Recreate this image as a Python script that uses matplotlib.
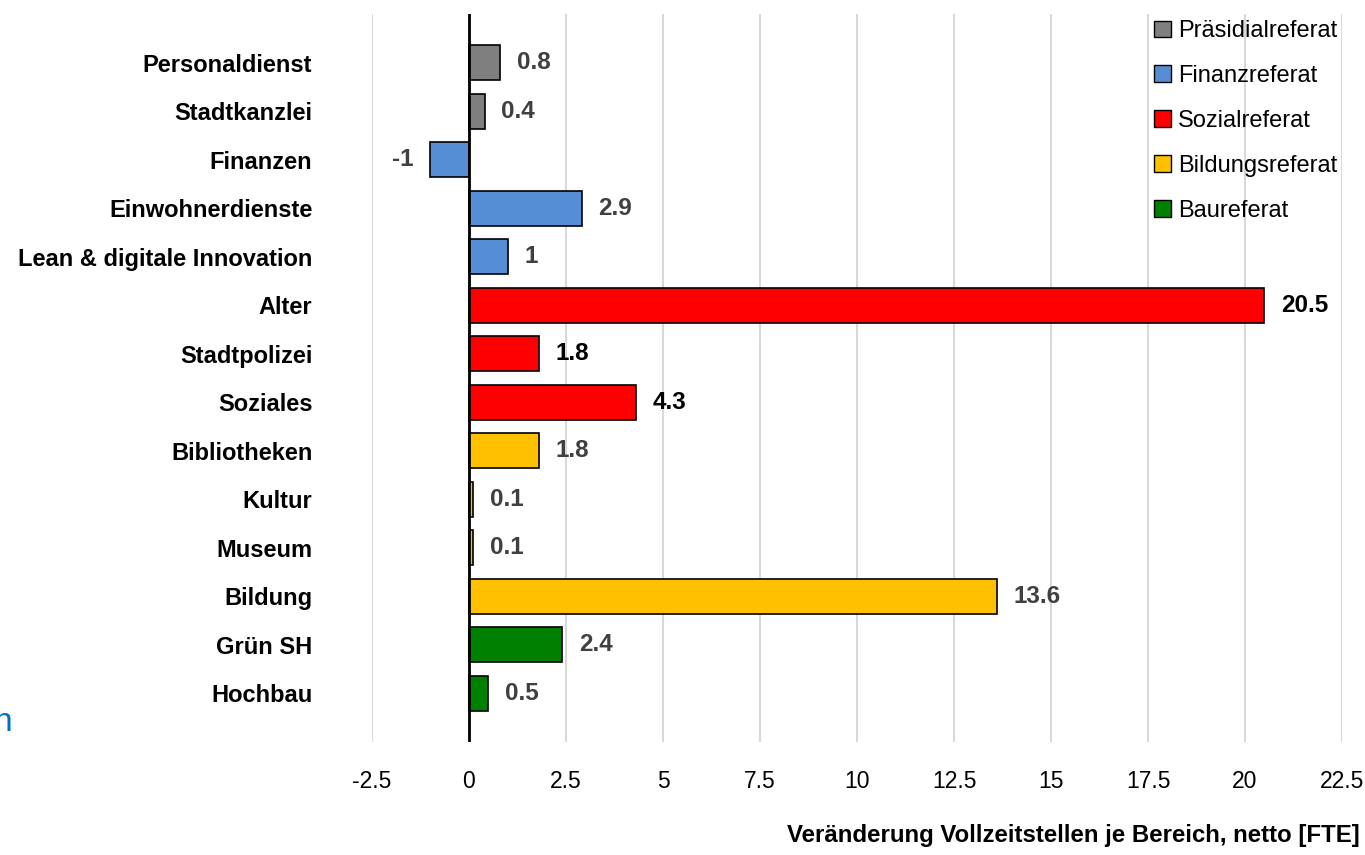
import matplotlib
matplotlib.use("Agg")
import matplotlib.pyplot as plt
from matplotlib.patches import Patch

plt.rcParams['font.family'] = ['Liberation Sans', 'DejaVu Sans']

categories = ["Personaldienst", "Stadtkanzlei", "Finanzen", "Einwohnerdienste",
              "Lean & digitale Innovation", "Alter", "Stadtpolizei", "Soziales",
              "Bibliotheken", "Kultur", "Museum", "Bildung", "Grün SH", "Hochbau"]
values = [0.8, 0.4, -1, 2.9, 1, 20.5, 1.8, 4.3, 1.8, 0.1, 0.1, 13.6, 2.4, 0.5]
groups = ["Präsidialreferat", "Präsidialreferat", "Finanzreferat", "Finanzreferat",
          "Finanzreferat", "Sozialreferat", "Sozialreferat", "Sozialreferat",
          "Bildungsreferat", "Bildungsreferat", "Bildungsreferat", "Bildungsreferat",
          "Baureferat", "Baureferat"]
group_names = ["Präsidialreferat", "Finanzreferat", "Sozialreferat", "Bildungsreferat", "Baureferat"]
group_colors = {"Präsidialreferat": "#7F7F7F", "Finanzreferat": "#558ED5",
                "Sozialreferat": "#FF0000", "Bildungsreferat": "#FFC000",
                "Baureferat": "#008000"}
label_colors = {"Sozialreferat": "#000000"}
xticks = [-2.5, 0, 2.5, 5, 7.5, 10, 12.5, 15, 17.5, 20, 22.5]
xtick_labels = ["-2.5", "0", "2.5", "5", "7.5", "10", "12.5", "15", "17.5", "20", "22.5"]

fig = plt.figure(figsize=(13.65, 8.55), dpi=100)
ax = fig.add_axes([372/1365, 1 - 742/855, (1342-372)/1365, (742-14)/855])

ypos = list(range(len(categories)))
ax.barh(ypos, values, height=0.72,
        color=[group_colors[g] for g in groups],
        edgecolor="black", linewidth=1.2, zorder=3)

for y, v, g in zip(ypos, values, groups):
    c = label_colors.get(g, "#404040")
    if v >= 0:
        ax.annotate(f"{v:g}", (v, y), xytext=(12, 0), textcoords="offset points",
                    ha="left", va="center", fontsize=17.5, fontweight="bold", color=c)
    else:
        ax.annotate(f"{v:g}", (v, y), xytext=(-12, 0), textcoords="offset points",
                    ha="right", va="center", fontsize=17.5, fontweight="bold", color=c)

ax.set_xlim(-2.5, 22.5)
ax.set_ylim(len(categories), -1)
ax.set_xticks(xticks)
ax.set_xticklabels(xtick_labels, fontsize=16.5)
ax.set_yticks(ypos)
ax.set_yticklabels(categories, fontsize=17, fontweight="bold")
ax.tick_params(axis="both", length=0)
ax.tick_params(axis="x", pad=20)
ax.tick_params(axis="y", pad=43)
for s in ax.spines.values():
    s.set_visible(False)
ax.grid(axis="x", color="#D9D9D9", linewidth=1.5, zorder=0)
ax.set_axisbelow(True)
ax.axvline(0, color="black", linewidth=2, zorder=4)

fig.text(1360/1365, 1 - 835/855, "Veränderung Vollzeitstellen je Bereich, netto [FTE]",
         ha="right", va="center", fontsize=17.3, fontweight="bold")
fig.text(12/1365, 1 - 722/855, "h", ha="right", va="center", fontsize=24, color="#0070C0")

handles = [Patch(facecolor=group_colors[g], edgecolor="black", label=g) for g in group_names]
leg = fig.legend(handles=handles, loc="upper left", bbox_to_anchor=(1134/1365, 1.0),
                 frameon=False, fontsize=17, handlelength=0.7, handleheight=0.7,
                 handletextpad=0.3, labelspacing=0.97, borderaxespad=0.45)

fig.savefig("out.png", dpi=100)
